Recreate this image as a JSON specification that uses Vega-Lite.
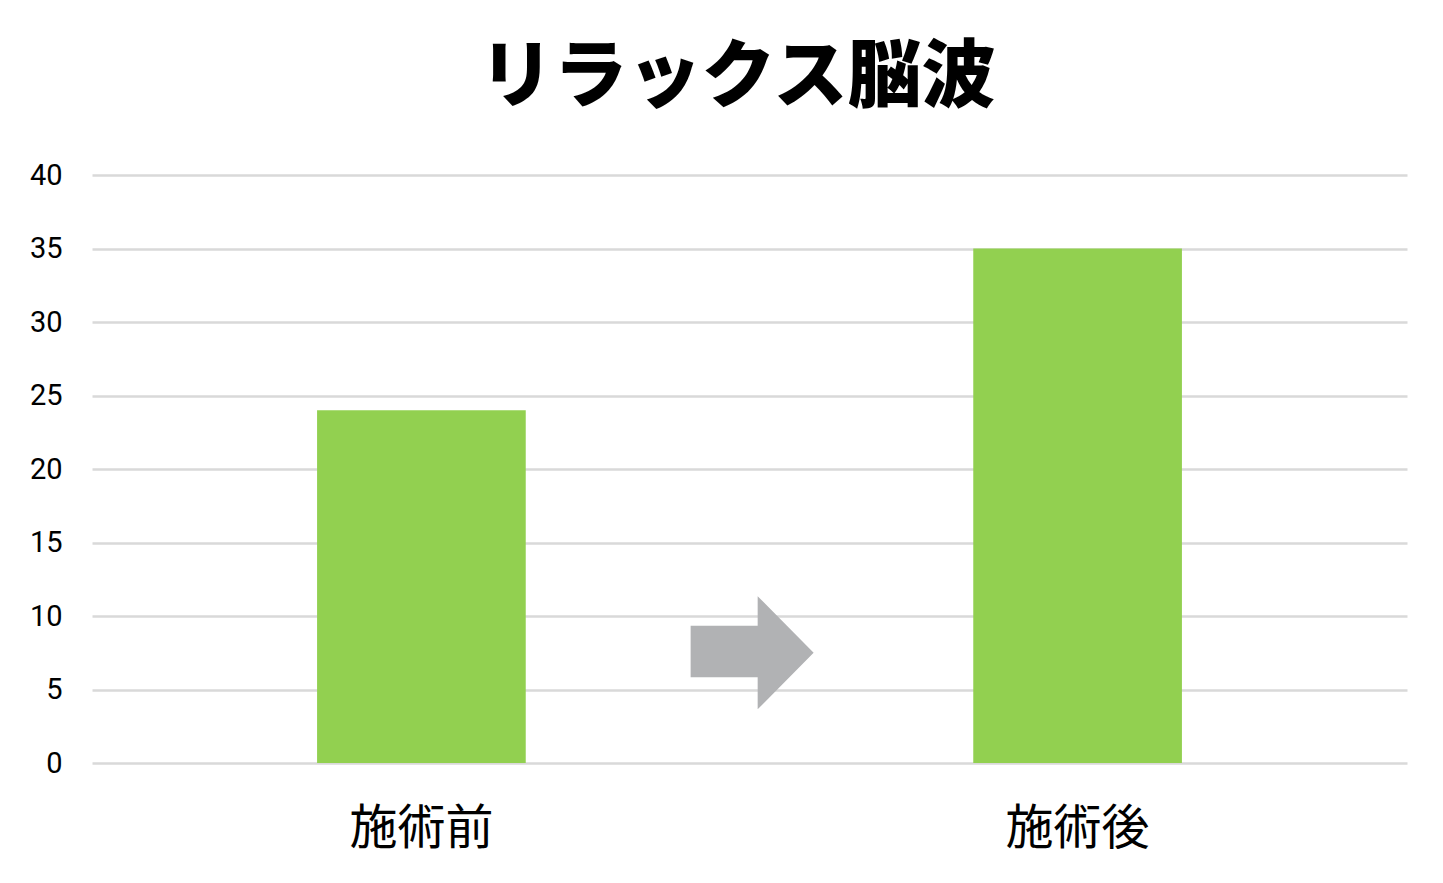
{
  "$schema": "https://vega.github.io/schema/vega-lite/v6.json",
  "autosize": "none",
  "width": 1315,
  "height": 588,
  "padding": {"left": 92, "top": 175, "right": 36, "bottom": 120},
  "background": "white",
  "title": {
    "text": "リラックス脳波",
    "font": "Noto Sans CJK JP",
    "fontSize": 74,
    "fontWeight": 900,
    "color": "#000000",
    "anchor": "middle",
    "dx": -12,
    "offset": 44
  },
  "config": {
    "view": {"stroke": null},
    "font": "Noto Sans CJK JP"
  },
  "layer": [
    {
      "data": {
        "values": [
          {"phase": "施術前", "value": 24},
          {"phase": "施術後", "value": 35}
        ]
      },
      "mark": {"type": "bar", "color": "#92d050"},
      "encoding": {
        "x": {
          "field": "phase",
          "type": "nominal",
          "sort": ["施術前", "施術後"],
          "scale": {"paddingInner": 0.682, "paddingOuter": 0.343},
          "axis": {
            "title": null,
            "labelAngle": 0,
            "labelFontSize": 48,
            "labelColor": "#000000",
            "labelPadding": 42,
            "ticks": false,
            "domain": false
          }
        },
        "y": {
          "field": "value",
          "type": "quantitative",
          "scale": {"domain": [0, 40]},
          "axis": {
            "title": null,
            "values": [0, 5, 10, 15, 20, 25, 30, 35, 40],
            "labelFont": "Roboto",
            "labelFontSize": 29,
            "labelColor": "#000000",
            "labelPadding": 30,
            "ticks": false,
            "domain": false,
            "gridColor": "#d9d9d9",
            "gridWidth": 2.5
          }
        }
      }
    },
    {
      "data": {
        "values": [
          {"pos": 0.502, "value": 7.5}
        ]
      },
      "mark": {
        "type": "point",
        "filled": true,
        "color": "#b1b2b4",
        "opacity": 1,
        "size": 15129,
        "shape": "M-1,-0.44 L0.09,-0.44 L0.09,-0.92 L1,0 L0.09,0.92 L0.09,0.4 L-1,0.4 Z"
      },
      "encoding": {
        "x": {
          "field": "pos",
          "type": "quantitative",
          "scale": {"domain": [0, 1]},
          "axis": null
        },
        "y": {"field": "value", "type": "quantitative"}
      }
    }
  ],
  "resolve": {"scale": {"x": "independent"}}
}
